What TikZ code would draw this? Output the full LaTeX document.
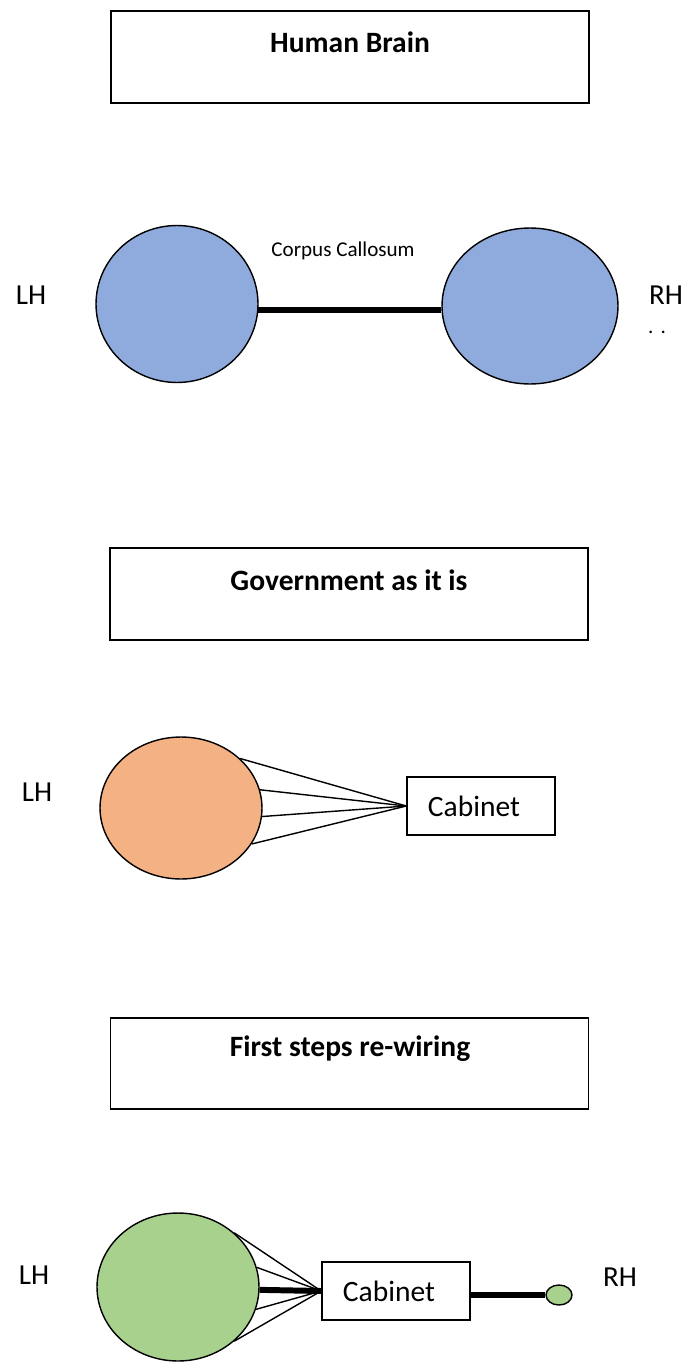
\documentclass[tikz,border=0pt]{standalone}
\usepackage{fontspec}
\setmainfont{Carlito}
\usepackage{tikz}
\usetikzlibrary{shapes.geometric}
\definecolor{brainblue}{HTML}{8FAADC}
\definecolor{govorange}{HTML}{F4B183}
\definecolor{stepgreen}{HTML}{A9D18E}

\begin{document}
\begin{tikzpicture}[x=0.02cm,y=-0.02cm,
    titlebox/.style={draw=black,line width=0.9pt,minimum width=9.56cm,minimum height=1.84cm,inner sep=0pt},
    titletext/.style={font=\fontsize{16.8}{20}\selectfont\bfseries,inner sep=0pt},
    side/.style={font=\fontsize{16.5}{20}\selectfont,inner sep=0pt},
    hemi/.style={ellipse,draw=black,line width=0.8pt,inner sep=0pt},
    cabbox/.style={draw=black,line width=0.9pt,minimum width=2.96cm,minimum height=1.16cm,inner sep=0pt,font=\fontsize{16.8}{20}\selectfont},
    wire/.style={black,line width=0.8pt},
    bridge/.style={black,line width=3.4pt}]
    \useasboundingbox (0,0) rectangle (685,1372);
    % human brain
    \node[titlebox] (hb) at (350,57) {};
    \node[titletext] (hbt) at (350,42) {Human Brain};
    \node[hemi,fill=brainblue,minimum width=3.24cm,minimum height=3.14cm] (lh1) at (177,304) {};
    \node[hemi,fill=brainblue,minimum width=3.52cm,minimum height=3.12cm] (rh1) at (530,306) {};
    \draw[bridge] (lh1.-4) -- (lh1.-4 -| rh1.west);
    \node[inner sep=0pt,font=\fontsize{12}{14}\selectfont] (cc) at (343,251) {Corpus Callosum};
    \node[side] (lht1) at (31,295) {LH};
    \node[side] (rht1) at (666,295) {RH};
    \node[inner sep=0pt,font=\fontsize{12}{14}\selectfont] (dots) at (657,332) {.\,\,.};
    % government as it is
    \node[titlebox] (gov) at (349,594) {};
    \node[titletext] (govt) at (349,580) {Government as it is};
    \node[hemi,fill=govorange,minimum width=3.24cm,minimum height=2.84cm] (lh2) at (181,808) {};
    \node[cabbox] (cab2) at (481,806) {\hspace*{-0.28cm}Cabinet};
    \node[side] (lht2) at (37,792) {LH};
    \foreach \a in {40,13,-6,-27}
        \draw[wire] (lh2.\a) -- (cab2.west);
    % first steps re-wiring
    \node[titlebox,minimum height=1.82cm] (fs) at (349.5,1063.5) {};
    \node[titletext] (fst) at (350,1049) {First steps re-wiring};
    \node[hemi,fill=stepgreen,minimum width=3.24cm,minimum height=2.96cm] (lh3) at (178,1287) {};
    \node[cabbox] (cab3) at (396,1291) {\hspace*{-0.28cm}Cabinet};
    \node[hemi,fill=stepgreen,minimum width=0.52cm,minimum height=0.4cm] (rh3) at (559,1295) {};
    \node[side] (lht3) at (34,1275) {LH};
    \node[side] (rht3) at (620,1277) {RH};
    \foreach \a in {44,14,-16,-44}
        \draw[wire] (lh3.\a) -- (cab3.west);
    \draw[bridge] (lh3.-2) -- (cab3.west);
    \draw[bridge] (rh3.west -| cab3.east) -- (rh3.west);
\end{tikzpicture}
\end{document}
